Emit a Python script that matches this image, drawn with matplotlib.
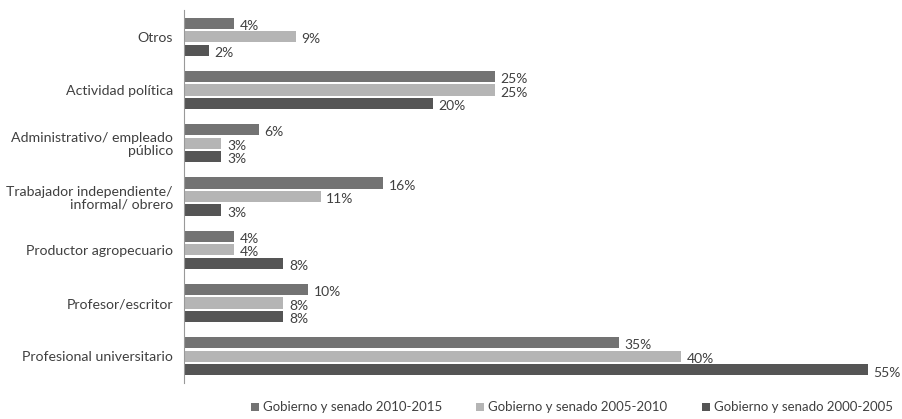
import numpy as np
import matplotlib.pyplot as plt

plt.rcParams['font.family'] = ['Lato', 'DejaVu Sans']

categorias = ['Otros', 'Actividad política', 'Administrativo/ empleado\npúblico',
              'Trabajador independiente/\ninformal/ obrero', 'Productor agropecuario',
              'Profesor/escritor', 'Profesional universitario']
series = ['Gobierno y senado 2010-2015', 'Gobierno y senado 2005-2010',
          'Gobierno y senado 2000-2005']
v2010 = [4, 25, 6, 16, 4, 10, 35]
v2005 = [9, 25, 3, 11, 4, 8, 40]
v2000 = [2, 20, 3, 3, 8, 8, 55]
colores = ['#737373', '#b5b5b5', '#555555']

fig = plt.figure(figsize=(9.02, 4.19), dpi=100)
ax = fig.add_axes([184/902, 1 - 383/419, (874 - 184)/902, 373/419])

y = np.arange(len(categorias))[::-1]
paso = 0.254
alto = 0.21
for i, (vals, c, nom) in enumerate(zip([v2010, v2005, v2000], colores, series)):
    pos = y + paso * (1 - i)
    ax.barh(pos, vals, height=alto, color=c, label=nom)
    for p, v in zip(pos, vals):
        ax.text(v + 0.45, p - 0.05, f'{v}%', va='center', ha='left',
                fontsize=10, color='#404040', clip_on=False)

ax.set_xlim(0, 55.5)
ax.set_ylim(-0.5, 6.5)
ax.set_yticks(y)
ax.set_yticklabels(categorias, fontsize=10.2, color='#404040', ha='right',
                   linespacing=1.1)
ax.tick_params(axis='y', length=0, pad=8)
ax.set_xticks([])
for s in ['top', 'right', 'bottom']:
    ax.spines[s].set_visible(False)
ax.spines['left'].set_color('#999999')

fig.legend(loc='lower center', bbox_to_anchor=(0.634, -0.015), ncol=3, frameon=False,
           fontsize=9.5, handlelength=0.6, handleheight=0.6, handletextpad=0.3,
           columnspacing=2.6, labelcolor='#404040')

fig.savefig('out.png', dpi=100)
